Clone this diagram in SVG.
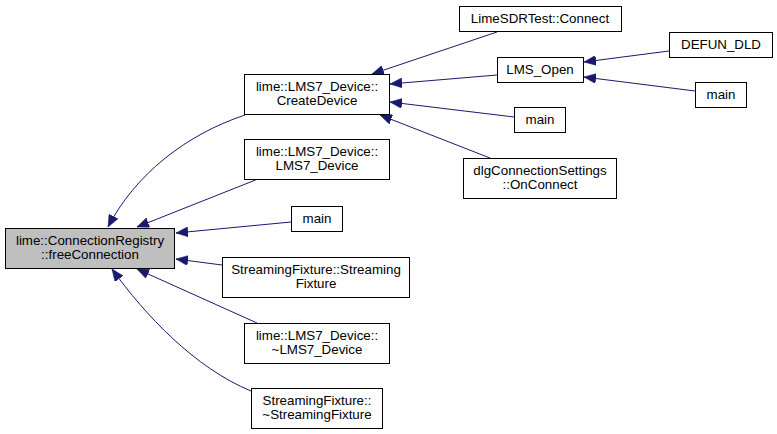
<svg xmlns="http://www.w3.org/2000/svg" width="777" height="434" viewBox="0 0 777 434">
<style>
.box{fill:#ffffff;stroke:#000000;stroke-width:1}
.hl{fill:#bfbfbf;stroke:#000000;stroke-width:1}
text{font-family:"Liberation Sans",Arial,sans-serif;font-size:13.33px;fill:#000000;text-anchor:middle}
.edge{fill:none;stroke:#191970;stroke-width:1;marker-end:url(#arr)}
</style>
<defs>
<marker id="arr" viewBox="0 0 12 10" refX="12" refY="5" markerWidth="12" markerHeight="10" markerUnits="userSpaceOnUse" orient="auto">
<polygon points="0,0 12,5 0,10" fill="#191970" stroke="#191970" stroke-width="0.5"/>
</marker>
</defs>
<rect width="777" height="434" fill="#ffffff"/>
<g id="edges">
<path class="edge" d="M245,115 C185,135 135,175 108,227"/>
<path class="edge" d="M258,179 L137,227"/>
<path class="edge" d="M291,222 L176,233"/>
<path class="edge" d="M222,265 L176,259"/>
<path class="edge" d="M257,323 L137,269"/>
<path class="edge" d="M251,391 C195,368 145,315 112,269"/>
<path class="edge" d="M497,32 L372,74"/>
<path class="edge" d="M497,75 L390,84"/>
<path class="edge" d="M514,117 L390,102"/>
<path class="edge" d="M490,158 L380,115"/>
<path class="edge" d="M669,51 L584,62"/>
<path class="edge" d="M695,91 L584,77"/>
</g>
<g id="n_freeConnection">
<rect class="hl" x="5.5" y="228.5" width="169" height="40"/>
<text x="90" y="245">lime::ConnectionRegistry</text>
<text x="90" y="259">::freeConnection</text>
</g>
<g id="n_CreateDevice">
<rect class="box" x="244.5" y="74.5" width="145" height="40"/>
<text x="317" y="91">lime::LMS7_Device::</text>
<text x="317" y="105">CreateDevice</text>
</g>
<g id="n_LMS7_Device">
<rect class="box" x="244.5" y="139.5" width="145" height="40"/>
<text x="317" y="156">lime::LMS7_Device::</text>
<text x="317" y="170">LMS7_Device</text>
</g>
<g id="n_main1">
<rect class="box" x="291.5" y="206.5" width="51" height="25"/>
<text x="317" y="223">main</text>
</g>
<g id="n_StreamingFixture">
<rect class="box" x="222.5" y="257.5" width="187" height="40"/>
<text x="316" y="274">StreamingFixture::Streaming</text>
<text x="316" y="288">Fixture</text>
</g>
<g id="n_dLMS7_Device">
<rect class="box" x="244.5" y="323.5" width="145" height="40"/>
<text x="317" y="340">lime::LMS7_Device::</text>
<text x="317" y="354">~LMS7_Device</text>
</g>
<g id="n_dStreamingFixture">
<rect class="box" x="251.5" y="388.5" width="131" height="40"/>
<text x="317" y="405">StreamingFixture::</text>
<text x="317" y="419">~StreamingFixture</text>
</g>
<g id="n_LimeSDRTest_Connect">
<rect class="box" x="459.5" y="6.5" width="162" height="25"/>
<text x="540" y="23">LimeSDRTest::Connect</text>
</g>
<g id="n_LMS_Open">
<rect class="box" x="497.5" y="57.5" width="86" height="25"/>
<text x="540" y="74">LMS_Open</text>
</g>
<g id="n_main2">
<rect class="box" x="514.5" y="107.5" width="51" height="25"/>
<text x="540" y="124">main</text>
</g>
<g id="n_OnConnect">
<rect class="box" x="463.5" y="158.5" width="153" height="40"/>
<text x="540" y="175">dlgConnectionSettings</text>
<text x="540" y="189">::OnConnect</text>
</g>
<g id="n_DEFUN_DLD">
<rect class="box" x="669.5" y="32.5" width="103" height="25"/>
<text x="721" y="49">DEFUN_DLD</text>
</g>
<g id="n_main3">
<rect class="box" x="695.5" y="82.5" width="51" height="25"/>
<text x="721" y="99">main</text>
</g>
</svg>
